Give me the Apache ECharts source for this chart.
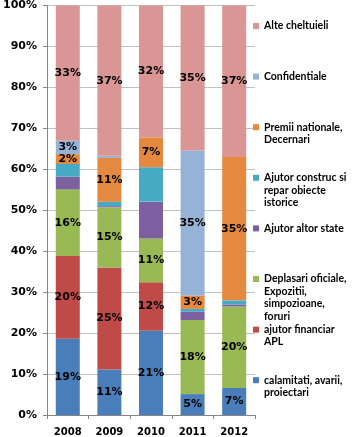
<!DOCTYPE html>
<html>
<head>
<meta charset="utf-8">
<script src="https://cdn.jsdelivr.net/npm/echarts@6/dist/echarts.min.js"></script>
<style>
html,body{margin:0;padding:0;background:#fff;}
#main{width:352px;height:437px;}
</style>
</head>
<body>
<div id="main"></div>
<script>
// share of each expense type per year, %
var years = ['2008', '2009', '2010', '2011', '2012'];
var calamitati = [18.6, 11.1, 20.6, 5.1, 6.6];
var ajutorApl = [20.2, 24.9, 11.8, 0, 0];
var deplasari = [16.3, 14.7, 10.7, 18.1, 19.9];
var ajutorState = [3.1, 0.3, 9.0, 2.0, 0.5];
var ajutorConstruc = [3.1, 1.1, 8.4, 0.7, 1.0];
var premii = [2.4, 10.7, 7.3, 3.3, 35.0];
var confidentiale = [3.3, 0.5, 0, 35.4, 0];
var alte = [33.0, 36.7, 32.2, 35.4, 37.0];

// legend text, already wrapped like the original
var seriesNames = [
    'calamitati, avarii, proiectari',
    'ajutor financiar APL',
    'Deplasari oficiale, Expozitii, simpozioane, foruri',
    'Ajutor altor state',
    'Ajutor construc si repar obiecte istorice',
    'Premii nationale, Decernari',
    'Confidentiale',
    'Alte cheltuieli'
];
var legendLines = [
    ['calamitati, avarii,', 'proiectari'],
    ['ajutor financiar', 'APL'],
    ['Deplasari oficiale,', 'Expozitii,', 'simpozioane,', 'foruri'],
    ['Ajutor altor state'],
    ['Ajutor construc si', 'repar obiecte', 'istorice'],
    ['Premii nationale,', 'Decernari'],
    ['Confidentiale'],
    ['Alte cheltuieli']
];
var seriesData = [calamitati, ajutorApl, deplasari, ajutorState, ajutorConstruc, premii, confidentiale, alte];
var colors = ['#4A7EBB', '#BE4B48', '#98B954', '#7D60A0', '#46AAC5', '#E5893F', '#95B3D7', '#D99694'];
var noLabel = [3, 4];

function buildSeries(){
    var series = [];
    for(var i=0;i < seriesNames.length;i++){
        series.push({
            name: seriesNames[i],
            type: 'bar',
            stack: 'total',
            barWidth: 24,
            data: seriesData[i],
            itemStyle: {color: colors[i]},
            label: {
                show: noLabel.indexOf(i) < 0,
                position: 'inside',
                color: '#000',
                fontFamily: 'DejaVu Sans',
                fontWeight: 'bold',
                fontSize: 11,
                formatter: function(p){
                    return p.value >= 1 ? Math.round(p.value) + '%' : '';
                }
            }
        });
    }
    return series;
}

function buildLegends(){
    var lh = 12.5;
    var legends = [];
    for(var i=0;i < seriesNames.length;i++){
        var row = seriesNames.length - 1 - i;   // top entry is the last series
        var lines = legendLines[i];
        var pad = [];
        for(var k=1;k < lines.length;k++) pad.push('');
        var text = pad.concat(lines).join('\n');
        var h = (2 * lines.length - 1) * lh;
        var firstY = 26 + row * 50.6;
        legends.push({
            data: [seriesNames[i]],
            left: 253,
            top: firstY - h / 2,
            padding: 0,
            itemWidth: 6,
            itemHeight: 6,
            icon: 'rect',
            selectedMode: false,
            formatter: (function(t){ return function(){ return t; }; })(text),
            textStyle: {
                fontFamily: 'Lato',
                fontWeight: 'bold',
                fontSize: 10.5,
                lineHeight: lh,
                color: '#000'
            }
        });
    }
    return legends;
}

var myChart = echarts.init(document.getElementById('main'));
var option = {
    animation: false,
    grid: {left: 44, right: 97, top: 5, bottom: 22, containLabel: false},
    legend: buildLegends(),
    xAxis: {
        type: 'category',
        data: years,
        axisLine: {lineStyle: {color: '#868686'}},
        axisTick: {show: true, length: 4, lineStyle: {color: '#868686'}},
        axisLabel: {
            margin: 12,
            color: '#000',
            fontFamily: 'DejaVu Sans',
            fontWeight: 'bold',
            fontSize: 10
        }
    },
    yAxis: {
        type: 'value',
        min: 0,
        max: 100,
        interval: 10,
        axisLine: {show: true, lineStyle: {color: '#868686'}},
        axisTick: {show: true, length: 4, lineStyle: {color: '#868686'}},
        splitLine: {lineStyle: {color: '#C0C0C0'}},
        axisLabel: {
            formatter: '{value}%',
            margin: 10,
            color: '#000',
            fontFamily: 'DejaVu Sans',
            fontWeight: 'bold',
            fontSize: 11
        }
    },
    series: buildSeries()
};
myChart.setOption(option);
</script>
</body>
</html>
